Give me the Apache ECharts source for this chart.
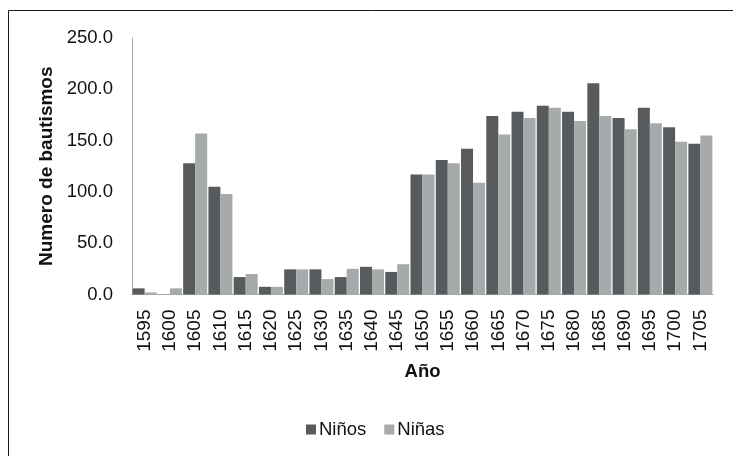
<!DOCTYPE html>
<html>
<head>
<meta charset="utf-8">
<script src="https://cdn.jsdelivr.net/npm/echarts@6/dist/echarts.min.js"></script>
<style>
  html, body { margin: 0; padding: 0; background: #fff; }
  #chart { width: 733px; height: 456px; }
</style>
</head>
<body>
<div id="chart"></div>
<script>
// Years (every five years)
const years = ['1595','1600','1605','1610','1615','1620','1625','1630','1635','1640','1645','1650',
  '1655','1660','1665','1670','1675','1680','1685','1690','1695','1700','1705'];

// Baptisms of boys
const ninos = [6, 0, 128, 105, 17, 7.5, 24.5, 24.5, 17, 27, 22, 117,
  131, 142, 174, 178, 184, 178, 206, 172, 182, 163, 147];

// Baptisms of girls
const ninas = [2, 6, 157, 98, 20, 7.5, 24.5, 15, 25, 24.5, 29.5, 117,
  128, 109, 156, 172, 182, 169, 174, 161, 167, 149, 155];

const yTicks = [0, 50, 100, 150, 200, 250];

const font = '"Liberation Sans", Arial, sans-serif';
const chart = echarts.init(document.getElementById('chart'));

chart.setOption({
  animation: false,
  backgroundColor: '#fff',
  textStyle: { fontFamily: font },
  grid: { left: 132, right: 20, top: 38, bottom: 161.5, containLabel: false },
  legend: {
    data: ['Niños', 'Niñas'],
    left: 306, top: 420, padding: 0,
    itemWidth: 10, itemHeight: 10, itemGap: 18,
    icon: 'rect',
    textStyle: { fontFamily: font, fontSize: 18.5, color: '#111', padding: [0, 0, 0, -2] }
  },
  xAxis: {
    type: 'category',
    data: years,
    name: 'Año',
    nameLocation: 'middle', nameGap: 68,
    nameTextStyle: { fontSize: 18.5, fontWeight: 'bold', color: '#111', fontFamily: font },
    axisLine: { show: true, lineStyle: { color: '#ababab', width: 1 } },
    axisTick: { show: false },
    axisLabel: { rotate: 90, margin: 15, fontSize: 19, color: '#111', fontFamily: font, interval: 0 }
  },
  yAxis: {
    type: 'value',
    min: yTicks[0], max: yTicks[yTicks.length - 1], interval: 50,
    name: 'Numero de bautismos',
    nameLocation: 'middle', nameGap: 74, nameRotate: 90,
    nameTextStyle: { fontSize: 19, fontWeight: 'bold', color: '#111', fontFamily: font },
    axisLine: { show: true, lineStyle: { color: '#ababab', width: 1 } },
    axisTick: { show: false },
    splitLine: { show: false },
    axisLabel: { fontSize: 18.5, color: '#111', margin: 19, fontFamily: font,
      formatter: v => v.toFixed(1) }
  },
  series: [
    { name: 'Niños', type: 'bar', data: ninos, barGap: '0%', barCategoryGap: '5%',
      itemStyle: { color: '#585b5d' } },
    { name: 'Niñas', type: 'bar', data: ninas,
      itemStyle: { color: '#a7aaab' } }
  ],
  graphic: [
    { type: 'polyline', silent: true,
      shape: { points: [[8.5, 460], [8.5, 10.5], [740, 10.5]] },
      style: { stroke: '#1a1a1a', lineWidth: 1, fill: null } }
  ]
});
</script>
</body>
</html>
